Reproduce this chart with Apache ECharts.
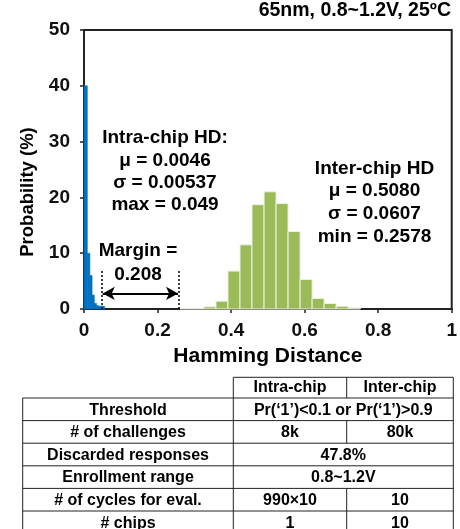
<!DOCTYPE html>
<html>
<head>
<meta charset="utf-8">
<script src="https://cdn.jsdelivr.net/npm/echarts@6/dist/echarts.min.js"></script>
<style>
html,body{margin:0;padding:0;background:#fff;}
#chart{width:460px;height:529px;}
</style>
</head>
<body>
<div id="chart"></div>
<script>
// ---- data ----
const intraEdges  = [0, 0.009, 0.016, 0.022, 0.028, 0.034, 0.040, 0.048, 0.056];
const intraValues = [40.0, 10.0, 6.0, 2.5, 1.0, 0.6, 0.5, 0.5];
const interEdges  = [0.2607, 0.2934, 0.3261, 0.3588, 0.3915, 0.4242, 0.4569, 0.4896,
                     0.5223, 0.5550, 0.5877, 0.6204, 0.6531, 0.6858, 0.7185, 0.7512];
const interValues = [0.1, 0.1, 0.4, 1.4, 6.8, 11.5, 18.7, 21.0, 18.9, 13.9, 5.3, 1.9, 1.0, 0.5, 0.2];
const xTickLabels = ['0', '0.2', '0.4', '0.6', '0.8', '1'];
const yTickLabels = ['0', '10', '20', '30', '40', '50'];
const intraMax = 0.049;
const interMin = 0.2578;
const marginText = ['Margin =', '0.208'];
const intraStats = ['Intra-chip HD:', 'μ = 0.0046', 'σ = 0.00537', 'max = 0.049'];
const interStats = ['Inter-chip HD', 'μ = 0.5080', 'σ = 0.0607', 'min = 0.2578'];
const titleText = '65nm, 0.8~1.2V, 25ºC';
const tableHeader = ['Intra-chip', 'Inter-chip'];
const tableRows = [
  ['Threshold', 'Pr(‘1’)<0.1 or Pr(‘1’)>0.9'],
  ['# of challenges', '8k', '80k'],
  ['Discarded responses', '47.8%'],
  ['Enrollment range', '0.8~1.2V'],
  ['# of cycles for eval.', '990×10', '10'],
  ['# chips', '1', '10']
];

// ---- build ----
const FONT = '"Liberation Sans", Arial, Helvetica, sans-serif';
const toBins = (edges, vals) => vals.map((v, i) => [edges[i], edges[i + 1], v]);

function histRender(fill, stroke, lw) {
  return function (params, api) {
    const p0 = api.coord([api.value(0), api.value(2)]);
    const p1 = api.coord([api.value(1), 0]);
    return {
      type: 'rect',
      shape: { x: p0[0], y: p0[1], width: p1[0] - p0[0], height: p1[1] - p0[1] },
      style: { fill: fill, stroke: stroke, lineWidth: lw }
    };
  };
}

const chart = echarts.init(document.getElementById('chart'), null, { renderer: 'canvas' });

const graphics = [];
// title
graphics.push({ type: 'text', x: 451, y: 11, style: { text: titleText, fill: '#000', font: 'bold 19.5px ' + FONT, align: 'right', verticalAlign: 'middle' } });
// y axis name
graphics.push({ type: 'text', x: 28, y: 192, rotation: Math.PI / 2, style: { text: 'Probability (%)', fill: '#000', font: 'bold 18.5px ' + FONT, align: 'center', verticalAlign: 'middle' } });
// annotations
graphics.push({ type: 'text', x: 165, y: 171.5, style: { text: intraStats.join('\n'), fill: '#000', font: 'bold 19px ' + FONT, lineHeight: 22.3, align: 'center', verticalAlign: 'middle' } });
graphics.push({ type: 'text', x: 374.5, y: 202.5, style: { text: interStats.join('\n'), fill: '#000', font: 'bold 19px ' + FONT, lineHeight: 22.7, align: 'center', verticalAlign: 'middle' } });
graphics.push({ type: 'text', x: 138, y: 250.5, style: { text: marginText[0], fill: '#000', font: 'bold 19px ' + FONT, align: 'center', verticalAlign: 'middle' } });
graphics.push({ type: 'text', x: 138, y: 275, style: { text: marginText[1], fill: '#000', font: 'bold 19px ' + FONT, align: 'center', verticalAlign: 'middle' } });

// table
const tL = 22.7, tC1 = 233.3, tC2 = 346.7, tR = 453.3;
const hTop = 377.3, r0 = 398, rh = 22.6, tBottom = 540;
const lineStyle = { stroke: '#222', lineWidth: 1 };
function hline(x1, x2, y) { graphics.push({ type: 'line', shape: { x1: x1, y1: y, x2: x2, y2: y }, style: lineStyle }); }
function vline(x, y1, y2) { graphics.push({ type: 'line', shape: { x1: x, y1: y1, x2: x, y2: y2 }, style: lineStyle }); }
function cell(text, x, y) { graphics.push({ type: 'text', x: x, y: y, style: { text: text, fill: '#000', font: 'bold 16px ' + FONT, align: 'center', verticalAlign: 'middle' } }); }
hline(tC1, tR, hTop);
vline(tC1, hTop, tBottom);
vline(tR, hTop, tBottom);
vline(tC2, hTop, r0);
cell(tableHeader[0], (tC1 + tC2) / 2, (hTop + r0) / 2);
cell(tableHeader[1], (tC2 + tR) / 2, (hTop + r0) / 2);
vline(tL, r0, tBottom);
tableRows.forEach((row, i) => {
  const top = r0 + i * rh;
  hline(tL, tR, top);
  const cy = top + rh / 2 + 0.8;
  cell(row[0], (tL + tC1) / 2, cy);
  if (row.length === 2) {
    cell(row[1], (tC1 + tR) / 2, cy);
  } else {
    vline(tC2, top, top + rh);
    cell(row[1], (tC1 + tC2) / 2, cy);
    cell(row[2], (tC2 + tR) / 2, cy);
  }
});

const option = {
  animation: false,
  backgroundColor: '#fff',
  grid: { left: 84, right: 8, top: 30, bottom: 220, show: true, borderColor: '#222', borderWidth: 2, containLabel: false },
  xAxis: {
    type: 'value', min: 0, max: 1, interval: 0.2,
    name: 'Hamming Distance', nameLocation: 'middle', nameGap: 37,
    nameTextStyle: { fontFamily: FONT, fontWeight: 'bold', fontSize: 21, color: '#000' },
    axisLine: { show: true, onZero: false, lineStyle: { color: '#222', width: 2 } },
    axisTick: { show: true, inside: false, length: 4, lineStyle: { color: '#222', width: 1.5 } },
    axisLabel: { margin: 12, fontFamily: FONT, fontWeight: 'bold', fontSize: 19, color: '#111',
      formatter: (v) => xTickLabels[Math.round(v / 0.2)] },
    splitLine: { show: false }
  },
  yAxis: {
    type: 'value', min: 0, max: 50, interval: 10,
    axisLine: { show: true, onZero: false, lineStyle: { color: '#222', width: 2 } },
    axisTick: { show: true, inside: false, length: 4, lineStyle: { color: '#222', width: 1.5 } },
    axisLabel: { margin: 14, fontFamily: FONT, fontWeight: 'bold', fontSize: 19, color: '#111',
      formatter: (v) => yTickLabels[Math.round(v / 10)] },
    splitLine: { show: false }
  },
  series: [
    {
      type: 'custom', name: 'Inter-chip', renderItem: histRender('#9BBB59', '#eef2e6', 1),
      encode: { x: [0, 1], y: 2 }, data: toBins(interEdges, interValues), silent: true
    },
    {
      type: 'custom', name: 'Intra-chip', renderItem: histRender('#0070C0', '#0070C0', 0.6),
      encode: { x: [0, 1], y: 2 }, data: toBins(intraEdges, intraValues), silent: true
    },
    {
      type: 'line', data: [], silent: true,
      markLine: {
        silent: true, symbol: ['none', 'none'], label: { show: false },
        lineStyle: { color: '#000', width: 1.5, type: [2, 2] },
        data: [
          [{ coord: [intraMax, 0] }, { coord: [intraMax, 6.8] }],
          [{ coord: [interMin, 0] }, { coord: [interMin, 6.8] }]
        ]
      }
    },
    {
      type: 'line', data: [], silent: true,
      markLine: {
        silent: true, symbol: ['arrow', 'arrow'], symbolSize: [10, 12], label: { show: false },
        lineStyle: { color: '#000', width: 2, type: 'solid' },
        data: [
          [{ coord: [intraMax + 0.002, 2.8] }, { coord: [interMin - 0.002, 2.8] }]
        ]
      }
    }
  ],
  graphic: graphics
};
chart.setOption(option);
</script>
</body>
</html>
